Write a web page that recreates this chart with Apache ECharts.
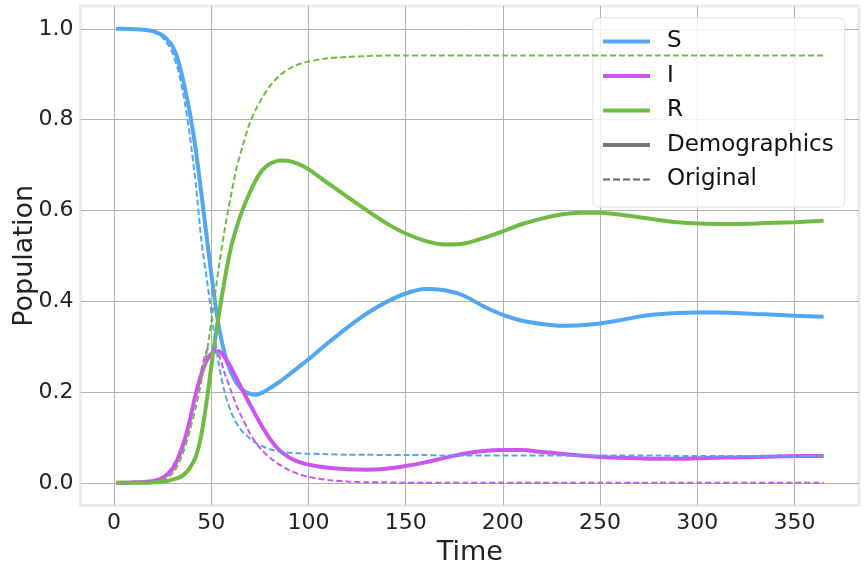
<!DOCTYPE html>
<html>
<head>
<meta charset="utf-8">
<script src="https://cdn.jsdelivr.net/npm/echarts@6/dist/echarts.min.js"></script>
<style>
html,body{margin:0;padding:0;background:#fff;}
#chart{width:865px;height:571px;}
</style>
</head>
<body>
<div id="chart"></div>
<script>
// ---- data ----
const days = [1,5,10,15,20,24,27,30,33,36,39,42,45,48,51,54,57,60,63,66,70,73,76,80,85,90,95,100,110,120,130,140,150,160,170,180,190,200,210,220,230,240,250,260,270,280,290,300,310,320,330,340,350,365];

const sDemographics = [1.000,1.000,0.999,0.998,0.995,0.988,0.978,0.962,0.930,0.878,0.815,0.735,0.635,0.530,0.428,0.342,0.283,0.245,0.220,0.205,0.196,0.194,0.198,0.208,0.222,0.238,0.255,0.272,0.308,0.342,0.373,0.398,0.417,0.427,0.424,0.412,0.389,0.370,0.357,0.350,0.346,0.347,0.351,0.358,0.366,0.371,0.374,0.375,0.375,0.374,0.372,0.370,0.368,0.366];
const iDemographics = [0.000,0.000,0.001,0.002,0.004,0.009,0.017,0.030,0.055,0.090,0.138,0.195,0.240,0.272,0.287,0.290,0.276,0.255,0.230,0.205,0.172,0.148,0.125,0.098,0.072,0.056,0.046,0.040,0.033,0.030,0.029,0.031,0.037,0.045,0.055,0.064,0.070,0.072,0.072,0.068,0.064,0.060,0.057,0.055,0.054,0.053,0.053,0.054,0.055,0.056,0.057,0.058,0.059,0.059];
const rDemographics = [0.000,0.000,0.000,0.000,0.001,0.002,0.004,0.007,0.011,0.018,0.033,0.057,0.108,0.190,0.288,0.372,0.450,0.515,0.562,0.600,0.641,0.667,0.687,0.702,0.710,0.709,0.702,0.691,0.660,0.630,0.600,0.572,0.549,0.533,0.525,0.527,0.539,0.554,0.570,0.582,0.591,0.595,0.595,0.591,0.585,0.579,0.574,0.571,0.570,0.570,0.571,0.573,0.574,0.577];

const sOriginal = [1.000,1.000,0.999,0.997,0.993,0.984,0.970,0.948,0.908,0.848,0.765,0.660,0.530,0.440,0.345,0.258,0.198,0.158,0.131,0.113,0.097,0.088,0.081,0.074,0.069,0.066,0.065,0.064,0.063,0.062,0.062,0.061,0.061,0.061,0.060,0.060,0.060,0.060,0.060,0.060,0.060,0.060,0.060,0.060,0.060,0.060,0.059,0.059,0.059,0.059,0.059,0.059,0.059,0.059];
const iOriginal = [0.000,0.000,0.001,0.002,0.005,0.011,0.020,0.035,0.058,0.092,0.143,0.195,0.250,0.294,0.296,0.280,0.240,0.205,0.170,0.142,0.108,0.088,0.072,0.056,0.040,0.028,0.019,0.013,0.006,0.003,0.001,0.001,0.000,0.000,0.000,0.000,0.000,0.000,0.000,0.000,0.000,0.000,0.000,0.000,0.000,0.000,0.000,0.000,0.000,0.000,0.000,0.000,0.000,0.000];
const rOriginal = [0.000,0.000,0.000,0.001,0.002,0.005,0.010,0.020,0.040,0.072,0.115,0.165,0.225,0.295,0.385,0.478,0.560,0.630,0.693,0.740,0.795,0.823,0.847,0.873,0.897,0.912,0.922,0.928,0.935,0.938,0.940,0.941,0.941,0.941,0.941,0.941,0.941,0.941,0.941,0.941,0.941,0.941,0.941,0.941,0.941,0.941,0.941,0.941,0.941,0.941,0.941,0.941,0.941,0.941];

const xTicks = [0,50,100,150,200,250,300,350];
const yTicks = [0.0,0.2,0.4,0.6,0.8,1.0];
const legendNames = ['S','I','R','Demographics','Original'];

// ---- chart ----
const COLORS = {S:'#52a6f2', I:'#cc55ef', R:'#70bb44', gray:'#777777', grayDash:'#666666'};
const pair = arr => days.map((d,i)=>[d, arr[i]]);
const FONT = 'DejaVu Sans';
const SOLID_ICON = 'path://M0,0H47V4H0Z';
const DASH_ICON = 'path://M0,0H7V2H0Z M10,0H17V2H10Z M20,0H27V2H20Z M30,0H37V2H30Z M40,0H47V2H40Z';

function solid(name, arr, color){
  return {name, type:'line', data:pair(arr), symbol:'none', showSymbol:false, smooth:0.2,
    lineStyle:{color, width:4}, itemStyle:{color}, z:3};
}
function dashed(name, arr, color){
  return {name, type:'line', data:pair(arr), symbol:'none', showSymbol:false, smooth:0.2,
    lineStyle:{color, width:2, type:[6,3]}, itemStyle:{color}, z:4};
}

const chart = echarts.init(document.getElementById('chart'), null, {renderer:'canvas'});
chart.setOption({
  animation:false,
  backgroundColor:'#ffffff',
  textStyle:{fontFamily:FONT},
  grid:{left:80.6, right:6, top:6.1, bottom:65.5, show:true, borderColor:'#ebebeb', borderWidth:3,
    backgroundColor:'#ffffff', containLabel:false, outerBoundsMode:'none'},
  xAxis:{type:'value', min:-17.2, max:383.2,
    name:'Time', nameLocation:'middle', nameGap:34,
    nameTextStyle:{fontSize:27, color:'#222', fontFamily:FONT},
    axisLine:{show:false},
    axisTick:{show:false, customValues:xTicks},
    axisLabel:{customValues:xTicks, fontSize:22, color:'#222', margin:7, fontFamily:FONT},
    splitLine:{show:true, lineStyle:{color:'#b0b0b0', width:1}}
  },
  yAxis:{type:'value', min:-0.05, max:1.05,
    name:'Population', nameLocation:'middle', nameGap:42, nameMoveOverlap:false,
    nameTextStyle:{fontSize:27, color:'#222', fontFamily:FONT},
    axisLine:{show:false},
    axisTick:{show:false, customValues:yTicks},
    axisLabel:{customValues:yTicks, fontSize:22, color:'#222', margin:7, fontFamily:FONT,
      formatter:v=>Number(v).toFixed(1)},
    splitLine:{show:true, lineStyle:{color:'#b0b0b0', width:1}}
  },
  legend:{
    data:[
      {name:'S', icon:SOLID_ICON},
      {name:'I', icon:SOLID_ICON},
      {name:'R', icon:SOLID_ICON},
      {name:'Demographics', icon:SOLID_ICON},
      {name:'Original', icon:DASH_ICON, itemStyle:{color:COLORS.grayDash}}
    ],
    orient:'vertical', left:593, top:18,
    padding:[12,11,16,10], itemWidth:47, itemHeight:4, itemGap:11.5,
    backgroundColor:'rgba(255,255,255,0.82)', borderColor:'#e0e0e0', borderWidth:1, borderRadius:5,
    textStyle:{fontSize:23, color:'#111', fontFamily:FONT, padding:[0,0,0,12]}
  },
  series:[
    solid('S', sDemographics, COLORS.S),
    solid('I', iDemographics, COLORS.I),
    solid('R', rDemographics, COLORS.R),
    dashed('S original', sOriginal, COLORS.S),
    dashed('I original', iOriginal, COLORS.I),
    dashed('R original', rOriginal, COLORS.R),
    {name:'Demographics', type:'line', data:[], symbol:'none', lineStyle:{color:COLORS.gray, width:4}, itemStyle:{color:COLORS.gray}},
    {name:'Original', type:'line', data:[], symbol:'none', lineStyle:{color:COLORS.grayDash, width:2, type:[6,3]}, itemStyle:{color:COLORS.grayDash}}
  ]
});
</script>
</body>
</html>
